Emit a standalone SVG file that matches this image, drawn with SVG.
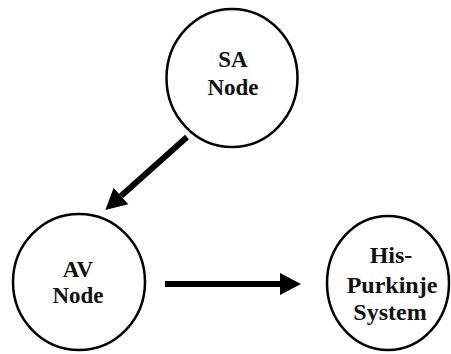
<svg xmlns="http://www.w3.org/2000/svg" width="451" height="354" viewBox="0 0 451 354">
  <style>
    .node { fill: #ffffff; stroke: #000000; stroke-width: 2.5; }
    .edge { stroke: #000000; stroke-width: 6; fill: none; marker-end: url(#head); }
  </style>
  <defs>
    <marker id="head" markerUnits="userSpaceOnUse" markerWidth="22" markerHeight="24" refX="0" refY="12" orient="auto">
      <path d="M0,1 L21,12 L0,23 Z" fill="#000000"/>
    </marker>
  </defs>
  <rect width="451" height="354" fill="#ffffff"/>

  <g id="connectors">
    <line class="edge" x1="187" y1="137" x2="121" y2="196"/>
    <line class="edge" x1="165" y1="284" x2="280" y2="284"/>
  </g>

  <g font-family="Liberation Serif, Times New Roman, DejaVu Serif, serif" font-weight="bold" fill="#111111" text-anchor="middle">
    <g id="sa-node" font-size="23">
      <ellipse class="node" cx="232" cy="78" rx="65.5" ry="69"/>
      <text x="233" y="67">SA</text>
      <text x="233" y="95">Node</text>
    </g>

    <g id="av-node" font-size="23">
      <ellipse class="node" cx="79" cy="282" rx="66" ry="68"/>
      <text x="78" y="277">AV</text>
      <text x="78" y="303">Node</text>
    </g>

    <g id="his-purkinje" font-size="24">
      <ellipse class="node" cx="388" cy="283" rx="61" ry="67"/>
      <text x="391" y="263">His-</text>
      <text x="392" y="293">Purkinje</text>
      <text x="390" y="320">System</text>
    </g>
  </g>
</svg>
